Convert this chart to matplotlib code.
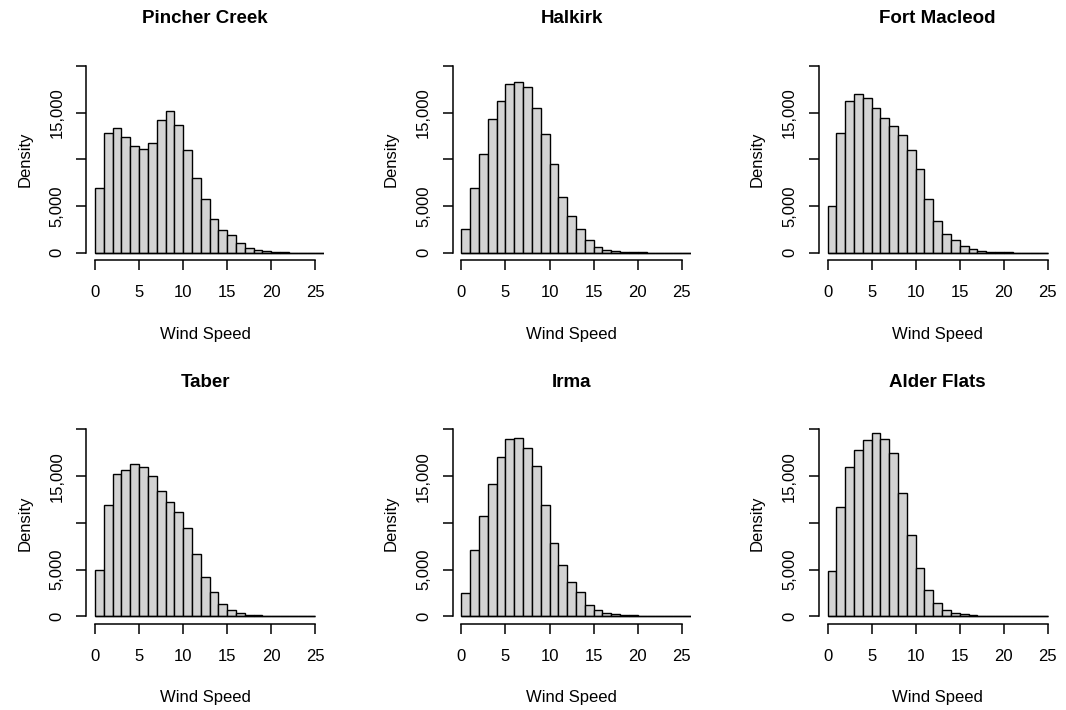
import numpy as np
import matplotlib
matplotlib.use("Agg")
import matplotlib.pyplot as plt

plt.rcParams['font.family'] = ['Liberation Sans', 'DejaVu Sans']

# bar heights per 1-unit wind speed bin
stations = ['Pincher Creek', 'Halkirk', 'Fort Macleod', 'Taber', 'Irma', 'Alder Flats']

pincher_creek = [6900, 12800, 13400, 12400, 11400, 11100, 11700, 14200, 15150, 13700,
                 11000, 8000, 5800, 3600, 2450, 1850, 1080, 520, 260, 140,
                 70, 30, 15, 8, 4, 2]
halkirk = [2550, 6950, 10600, 14300, 16300, 18050, 18300, 17700, 15550, 12750,
           9550, 6000, 3900, 2500, 1350, 580, 300, 180, 100, 60,
           30, 15, 8, 4, 2, 1]
fort_macleod = [5000, 12800, 16300, 17050, 16550, 15450, 14400, 13550, 12600, 11050,
                9000, 5750, 3350, 2000, 1400, 750, 360, 180, 100, 60,
                30, 15, 8, 4, 2]
taber = [5000, 11950, 15250, 15700, 16250, 16000, 15050, 13450, 12200, 11150,
         9450, 6700, 4200, 2550, 1300, 700, 360, 180, 100, 60,
         30, 15, 8, 4, 2]
irma = [2450, 7050, 10700, 14200, 17050, 19000, 19050, 18050, 16050, 11900,
        7850, 5450, 3650, 2550, 1200, 680, 390, 250, 140, 100,
        60, 30, 15, 8, 4, 2]
alder_flats = [4800, 11700, 16000, 17850, 18850, 19600, 18950, 17450, 13150, 8700,
               5200, 2850, 1400, 700, 360, 200, 140, 70, 40, 20,
               10, 5, 3, 2, 1]

series = [pincher_creek, halkirk, fort_macleod, taber, irma, alder_flats]

x_ticks = [0, 5, 10, 15, 20, 25]
y_ticks = [0, 5000, 10000, 15000, 20000]
y_tick_labels = ['0', '5,000', '', '15,000', '']

W, H = 1066, 710
fig = plt.figure(figsize=(W / 100, H / 100), dpi=100, facecolor='white')

col_left = [86.2, 452.6, 818.7]
row_top = [58.5, 422.0]
ax_w, ax_h = 238.0, 201.7

for i, (name, vals) in enumerate(zip(stations, series)):
    r, c = divmod(i, 3)
    left = col_left[c] / W
    bottom = 1 - (row_top[r] + ax_h) / H
    ax = fig.add_axes([left, bottom, ax_w / W, ax_h / H])

    edges = np.arange(len(vals) + 1)
    ax.bar(edges[:-1], vals, width=1, align='edge', color='#d3d3d3',
           edgecolor='black', linewidth=1.0)
    # baseline under the empty tail bins, like R's hist
    ax.hlines(0, 0, len(vals), color='black', linewidth=1.0)

    ax.set_xlim(-1, 26)
    ax.set_ylim(-800, 20800)

    for s in ['top', 'right']:
        ax.spines[s].set_visible(False)
    ax.spines['left'].set_bounds(0, 20000)
    ax.spines['bottom'].set_bounds(0, 25)
    ax.spines['left'].set_linewidth(1.1)
    ax.spines['bottom'].set_linewidth(1.1)

    ax.set_xticks(x_ticks)
    ax.set_xticklabels([str(t) for t in x_ticks])
    ax.set_yticks(y_ticks)
    ax.set_yticklabels(y_tick_labels, rotation=90, va='center', ha='right')
    ax.tick_params(axis='both', direction='out', length=7.5, width=1.1,
                   labelsize=12, colors='black')
    ax.tick_params(axis='x', pad=10.5)
    ax.tick_params(axis='y', pad=8)

    ax.set_xlabel('Wind Speed', fontsize=12, va='center')
    ax.xaxis.set_label_coords(0.5, -74 / ax_h)
    ax.set_ylabel('Density', fontsize=12, va='center')
    ax.yaxis.set_label_coords(-(70 - 8.8) / ax_w, 0.5)

    ax.text(0.5, 1 + 40 / ax_h, name, transform=ax.transAxes, ha='center',
            va='center', fontsize=13.5, fontweight='bold')

plt.savefig('out.png', dpi=100)
